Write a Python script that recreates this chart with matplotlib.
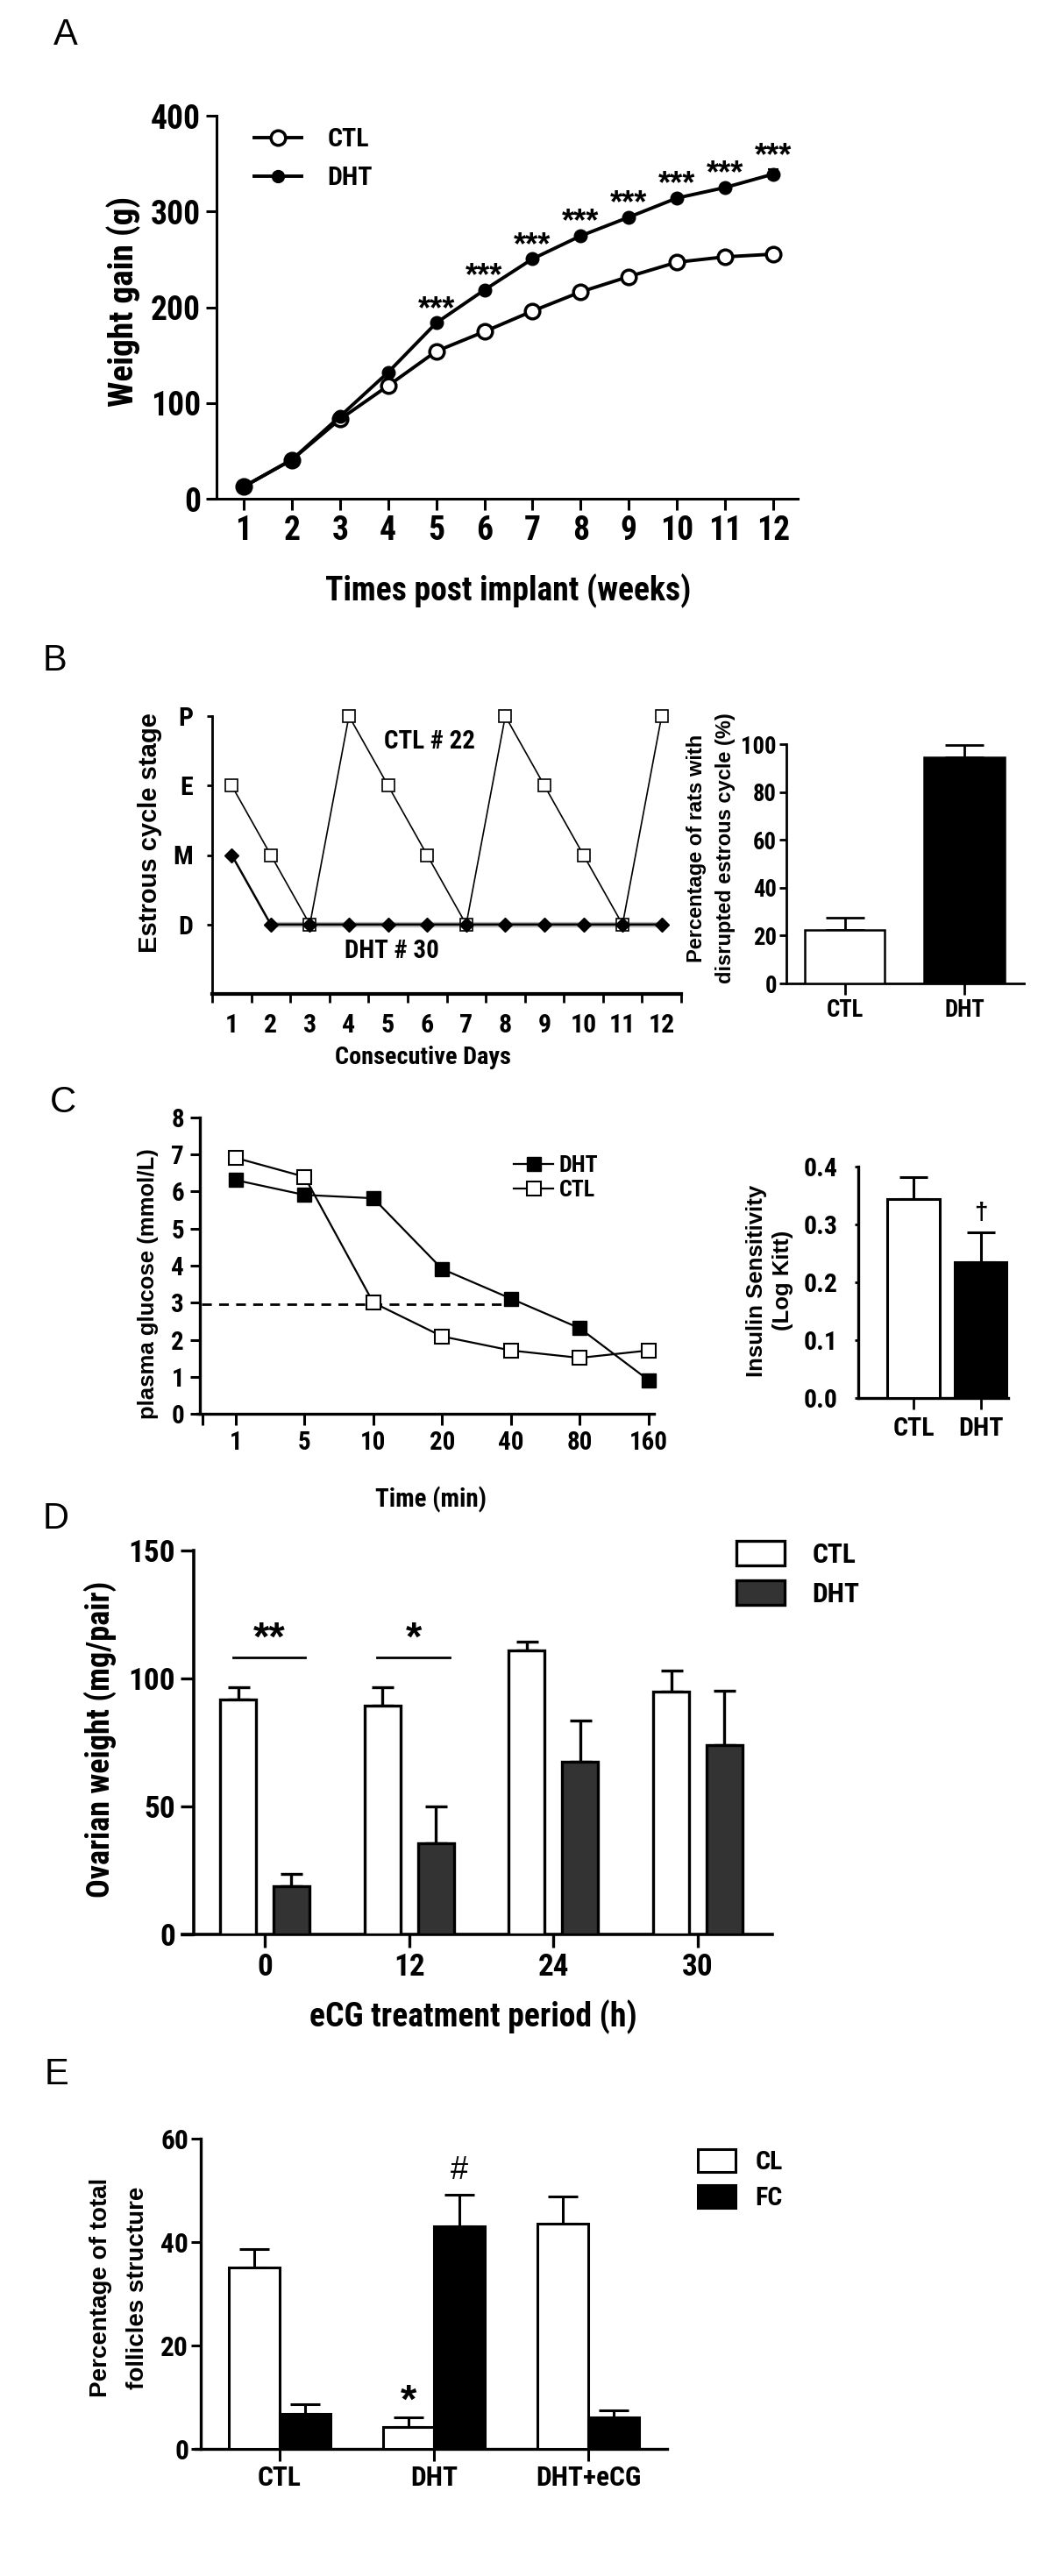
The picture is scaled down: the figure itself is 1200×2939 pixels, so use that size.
import matplotlib
matplotlib.use("Agg")
import matplotlib.pyplot as plt
from matplotlib import font_manager as fm
from matplotlib.font_manager import FontProperties
from matplotlib.lines import Line2D
import numpy as np

# ---------------- data ----------------
# Panel A
weeks = [1, 2, 3, 4, 5, 6, 7, 8, 9, 10, 11, 12]
ctl_weight = [12.6, 40.7, 83, 118, 154, 174.5, 196, 216, 232, 247, 252.6, 255.4]
ctl_weight_err = [0, 0, 0, 0, 0, 0, 0, 0, 0, 0, 0, 3]
dht_weight = [12.6, 40.7, 86, 132, 183.6, 218, 250.5, 274.5, 294, 314, 325, 339]
dht_weight_err = [0, 0, 0, 0, 0, 0, 0, 0, 0, 0, 0, 5]
sig_weeks = [5, 6, 7, 8, 9, 10, 11, 12]

# Panel B (left)
days = [1, 2, 3, 4, 5, 6, 7, 8, 9, 10, 11, 12]
stage_names = ["D", "M", "E", "P"]
ctl22_stage = [2, 1, 0, 3, 2, 1, 0, 3, 2, 1, 0, 3]
dht30_stage = [1, 0, 0, 0, 0, 0, 0, 0, 0, 0, 0, 0]
# Panel B (right)
groups_b = ["CTL", "DHT"]
disrupted_pct = [22.3, 94.5]
disrupted_err = [5.2, 5.1]

# Panel C (left)
time_labels = ["1", "5", "10", "20", "40", "80", "160"]
glucose_dht = [6.31, 5.91, 5.82, 3.91, 3.11, 2.31, 0.91]
glucose_ctl = [6.91, 6.40, 3.00, 2.09, 1.71, 1.51, 1.71]
glucose_threshold = 2.95
# Panel C (right)
groups_c = ["CTL", "DHT"]
insulin_sens = [0.344, 0.235]
insulin_err = [0.038, 0.051]

# Panel D
periods = ["0", "12", "24", "30"]
ovary_ctl = [91.8, 89.5, 111.0, 94.7]
ovary_ctl_err = [4.8, 7.1, 3.5, 8.5]
ovary_dht = [18.7, 35.5, 67.6, 73.9]
ovary_dht_err = [5.0, 14.5, 16.1, 21.4]
ovary_sig = {0: "**", 1: "*"}
ovary_sig_level = 108.2

# Panel E
groups_e = ["CTL", "DHT", "DHT+eCG"]
cl_pct = [35.1, 4.2, 43.6]
cl_err = [3.5, 1.9, 5.2]
fc_pct = [6.8, 43.0, 6.1]
fc_err = [1.8, 6.2, 1.3]

# ---------------- fonts ----------------
_names = {f.name for f in fm.fontManager.ttflist}
_narrow = None
for cand in ["Liberation Sans Narrow", "Arial Narrow", "Roboto Condensed",
             "Open Sans Condensed", "Noto Sans Condensed"]:
    if cand in _names:
        _narrow = cand
        break
if _narrow:
    NARROW = [_narrow, "Liberation Sans", "DejaVu Sans"]
    NSCALE = 1.13
else:
    NARROW = ["Liberation Sans", "DejaVu Sans"]
    NSCALE = 1.0
SANS = ["Liberation Sans", "DejaVu Sans"]


def fp(size, narrow=True, bold=True):
    if narrow:
        return FontProperties(family=NARROW, weight="bold" if bold else "normal",
                              size=size * NSCALE)
    return FontProperties(family=SANS, weight="bold" if bold else "normal", size=size)


# ---------------- helpers ----------------
W, H = 1200, 2939
fig = plt.figure(figsize=(W / 100, H / 100), dpi=100)
fig.patch.set_facecolor("white")


def add_ax(l, t, r, b):
    return fig.add_axes([l / W, 1 - b / H, (r - l) / W, (b - t) / H])


def ftext(x, y, s, **kw):
    return fig.text(x / W, 1 - y / H, s, **kw)


def style(ax, lw=2.2, left_shift_px=0, width_px=None):
    for s in ["top", "right"]:
        ax.spines[s].set_visible(False)
    for s in ["left", "bottom"]:
        ax.spines[s].set_linewidth(lw)
    if left_shift_px and width_px:
        ax.spines["left"].set_position(("axes", left_shift_px / width_px))
    ax.patch.set_alpha(0)


def tick_font(ax, size, narrow=True):
    for lab in ax.get_xticklabels() + ax.get_yticklabels():
        lab.set_fontproperties(fp(size, narrow=narrow))


def panel_letter(x, y, s):
    ftext(x, y, s, fontproperties=fp(30, narrow=False, bold=False), ha="center", va="center")


# ---------------- Panel A ----------------
panel_letter(75, 40, "A")
axA = add_ax(240, 132, 910, 569)
style(axA, 2.2, left_shift_px=7, width_px=670)
axA.errorbar(weeks, ctl_weight, yerr=ctl_weight_err, color="black", lw=2.8,
             marker="o", ms=12, mfc="white", mec="black", mew=2.5,
             capsize=4.5, capthick=2.5, elinewidth=2.5, clip_on=False, zorder=3)
axA.errorbar(weeks, dht_weight, yerr=dht_weight_err, color="black", lw=2.8,
             marker="o", ms=10, mfc="black", mec="black", mew=1.5,
             capsize=4.5, capthick=2.5, elinewidth=2.5, clip_on=False, zorder=4)
axA.set_xlim(1 - (278 - 240) / 54.9, 12 + (910 - 882) / 54.9)
axA.set_ylim(0, 400)
axA.set_xticks(weeks)
axA.set_yticks([0, 100, 200, 300, 400])
axA.tick_params(axis="both", length=9, width=2.2, pad=4)
tick_font(axA, 24)
for w in sig_weeks:
    i = weeks.index(w)
    axA.text(w, dht_weight[i] + dht_weight_err[i] + 5, "***", ha="center", va="baseline",
             fontproperties=fp(26, narrow=False))
hA = [Line2D([], [], color="black", lw=2.8, marker="o", ms=12, mfc="white", mec="black", mew=2.5),
      Line2D([], [], color="black", lw=2.8, marker="o", ms=10, mfc="black", mec="black")]
axA.legend(hA, ["CTL", "DHT"], loc="upper left", bbox_to_anchor=(290 / W, 1 - 145 / H),
           bbox_transform=fig.transFigure, frameon=False, prop=fp(19),
           handlelength=1.8, handletextpad=1.0, labelspacing=0.55, borderpad=0, borderaxespad=0)
ftext(141, 344, "Weight gain (g)", rotation=90, ha="center", va="center", fontproperties=fp(25))
ftext(580, 674, "Times post implant (weeks)", ha="center", va="center", fontproperties=fp(24))

# ---------------- Panel B left ----------------
panel_letter(62, 754, "B")
axB = add_ax(242, 817, 777, 1134)
style(axB, 2.0)
axB.spines["bottom"].set_linewidth(3)
axB.plot(days[1:], dht30_stage[1:], color="#b5b5b5", lw=4.5, solid_capstyle="butt", zorder=2)
axB.plot(days, ctl22_stage, color="black", lw=1.2, marker="s", ms=10, mfc="white",
         mec="black", mew=1.2, clip_on=False, zorder=3)
axB.plot(days, dht30_stage, color="black", lw=1.8, marker="D", ms=8, mfc="black",
         mec="black", clip_on=False, zorder=4)
axB.set_xlim(0.5, 12.45)
axB.set_ylim(-1, 3)
axB.set_xticks(days)
axB.set_xticks(np.arange(0.5, 12.6, 1.0), minor=True)
axB.tick_params(axis="x", which="major", length=0, pad=16)
axB.tick_params(axis="x", which="minor", length=7, width=2)
axB.set_yticks([0, 1, 2, 3])
axB.set_yticklabels(stage_names)
axB.tick_params(axis="y", length=4, width=2, pad=12)
tick_font(axB, 19)
axB.text(6.05, 2.63, "CTL # 22", ha="center", va="center", fontproperties=fp(18.5))
axB.text(5.1, -0.38, "DHT # 30", ha="center", va="center", fontproperties=fp(18.5))
ftext(171, 950, "Estrous cycle stage", rotation=90, ha="center", va="center",
      fontproperties=fp(21, narrow=False))
ftext(482, 1206, "Consecutive Days", ha="center", va="center", fontproperties=fp(18))

# ---------------- Panel B right ----------------
axB2 = add_ax(897, 849, 1168, 1122)
style(axB2, 2.0)
axB2.bar([0, 1], disrupted_pct, width=0.67, color=["white", "black"], edgecolor="black",
         linewidth=1.8, zorder=3)
axB2.errorbar([0, 1], disrupted_pct, yerr=[[0, 0], disrupted_err], fmt="none", ecolor="black",
              elinewidth=2, capsize=16, capthick=2, zorder=2)
axB2.set_xlim(-0.49, 1.5)
axB2.set_ylim(0, 100)
axB2.set_xticks([0, 1])
axB2.set_xticklabels(groups_b)
axB2.set_yticks([0, 20, 40, 60, 80, 100])
axB2.tick_params(axis="x", length=9, width=2, pad=3)
axB2.tick_params(axis="y", length=6, width=2, pad=2)
tick_font(axB2, 17)
ftext(811, 968, "Percentage of rats with\ndisrupted estrous cycle (%)", rotation=90,
      ha="center", va="center", multialignment="center", linespacing=1.55,
      fontproperties=fp(17, narrow=False))

# ---------------- Panel C left ----------------
panel_letter(72, 1258, "C")
axC = add_ax(225, 1275, 746, 1613)
style(axC, 2.4, left_shift_px=3, width_px=521)
xi = np.arange(len(time_labels))
axC.plot([-0.5, 4], [glucose_threshold, glucose_threshold], color="black", lw=2,
         dashes=(4, 3), zorder=2)
axC.plot(xi, glucose_dht, color="black", lw=1.6, marker="s", ms=11, mfc="black", mec="black",
         label="DHT", clip_on=False, zorder=3)
axC.plot(xi, glucose_ctl, color="black", lw=1.6, marker="s", ms=11, mfc="white", mec="black",
         mew=1.5, label="CTL", clip_on=False, zorder=4)
axC.set_xlim(-0.56, 6.08)
axC.set_ylim(0, 8)
axC.set_xticks(xi)
axC.set_xticklabels(time_labels)
axC.set_xticks([-0.48], minor=True)
axC.tick_params(axis="x", which="both", length=9, width=2.2, pad=5)
axC.set_yticks(range(0, 9))
axC.tick_params(axis="y", length=8, width=2.2, pad=5)
tick_font(axC, 18.5)
axC.legend(loc="upper left", bbox_to_anchor=(586 / W, 1 - 1318 / H),
           bbox_transform=fig.transFigure, frameon=False, prop=fp(16.5),
           handlelength=1.75, handletextpad=0.25, labelspacing=0.15, borderpad=0, borderaxespad=0)
ftext(169, 1465, "plasma glucose (mmol/L)", rotation=90, ha="center", va="center",
      fontproperties=fp(18.5, narrow=False))
ftext(492, 1711, "Time (min)", ha="center", va="center", fontproperties=fp(18.5))

# ---------------- Panel C right ----------------
axI = add_ax(979, 1331, 1150, 1595)
style(axI, 2.4)
axI.bar([0, 1], insulin_sens, width=0.78, color=["white", "black"], edgecolor="black",
        linewidth=2.2, zorder=3)
axI.errorbar([0, 1], insulin_sens, yerr=[[0, 0], insulin_err], fmt="none", ecolor="black",
             elinewidth=2.2, capsize=11.5, capthick=2.2, zorder=2)
axI.text(1, insulin_sens[1] + insulin_err[1] + 0.014, "\u2020", ha="center", va="bottom",
         fontproperties=fp(20, narrow=False))
axI.set_xlim(-0.82, 1.40)
axI.set_ylim(0, 0.4)
axI.set_xticks([0, 1])
axI.set_xticklabels(groups_c)
axI.set_yticks([0, 0.1, 0.2, 0.3, 0.4])
axI.set_yticklabels(["0.0", "0.1", "0.2", "0.3", "0.4"])
axI.tick_params(axis="x", length=9, width=2, pad=6)
axI.tick_params(axis="y", length=3, width=2, pad=14)
tick_font(axI, 19)
ftext(878, 1461, "Insulin Sensitivity\n(Log Kitt)", rotation=90, ha="center", va="center",
      multialignment="center", linespacing=1.35, fontproperties=fp(18.5, narrow=False))

# ---------------- Panel D ----------------
panel_letter(64, 1733, "D")
axD = add_ax(208, 1769, 881, 2207)
style(axD, 2.6, left_shift_px=13, width_px=673)
gx = np.arange(len(periods))
off, bw = 0.185, 0.25
axD.bar(gx - off, ovary_ctl, width=bw, color="white", edgecolor="black",
        linewidth=2.4, zorder=3, label="CTL")
axD.bar(gx + off, ovary_dht, width=bw, color="#333333", edgecolor="black",
        linewidth=2.4, zorder=3, label="DHT")
axD.errorbar(gx - off, ovary_ctl, yerr=[np.zeros(4), ovary_ctl_err], fmt="none", ecolor="black",
             elinewidth=2.4, capsize=9, capthick=2.4, zorder=2)
axD.errorbar(gx + off, ovary_dht, yerr=[np.zeros(4), ovary_dht_err], fmt="none", ecolor="black",
             elinewidth=2.4, capsize=9, capthick=2.4, zorder=2)
for g, s in ovary_sig.items():
    axD.plot([g - 0.22, g + 0.28], [ovary_sig_level, ovary_sig_level], color="black", lw=2)
    axD.text(g + 0.03, ovary_sig_level + 3, s, ha="center", va="baseline",
             fontproperties=fp(34, narrow=False))
gstep = 164.7
axD.set_xlim(-(302 - 208) / gstep, 3 + (881 - 796) / gstep)
axD.set_ylim(0, 150)
axD.set_xticks(gx)
axD.set_xticklabels(periods)
axD.set_yticks([0, 50, 100, 150])
axD.tick_params(axis="x", length=11, width=2.4, pad=4)
axD.tick_params(axis="y", length=11, width=2.4, pad=4)
tick_font(axD, 22.5)
axD.legend(loc="upper left", bbox_to_anchor=(840 / W, 1 - 1758 / H),
           bbox_transform=fig.transFigure, frameon=False, prop=fp(20),
           handlelength=1.75, handleheight=1.0, handletextpad=1.0, labelspacing=0.45,
           borderpad=0, borderaxespad=0)
ftext(114, 1984, "Ovarian weight (mg/pair)", rotation=90, ha="center", va="center",
      fontproperties=fp(23))
ftext(540, 2301, "eCG treatment period (h)", ha="center", va="center", fontproperties=fp(24))

# ---------------- Panel E ----------------
panel_letter(65, 2367, "E")
axE = add_ax(223, 2440, 761, 2794)
style(axE, 2.4, left_shift_px=6, width_px=538)
ex = np.arange(len(groups_e))
off, bw = 0.165, 0.33
axE.bar(ex - off, cl_pct, width=bw, color="white", edgecolor="black", linewidth=2.2,
        zorder=3, label="CL")
axE.bar(ex + off, fc_pct, width=bw, color="black", edgecolor="black", linewidth=2.2,
        zorder=3, label="FC")
axE.errorbar(ex - off, cl_pct, yerr=[np.zeros(3), cl_err], fmt="none", ecolor="black",
             elinewidth=2.2, capsize=12.5, capthick=2.2, zorder=2)
axE.errorbar(ex + off, fc_pct, yerr=[np.zeros(3), fc_err], fmt="none", ecolor="black",
             elinewidth=2.2, capsize=12.5, capthick=2.2, zorder=2)
axE.text(1 - off, cl_pct[1] + cl_err[1] + 0.9, "*", ha="center", va="baseline",
         fontproperties=fp(34, narrow=False))
axE.text(1 + off, fc_pct[1] + fc_err[1] + 3.0, "#", ha="center", va="baseline",
         fontproperties=fp(26, narrow=False, bold=False))
estep = 176.0
axE.set_xlim(-(319 - 223) / estep, 2 + (761 - 671) / estep)
axE.set_ylim(0, 60)
axE.set_xticks(ex)
axE.set_xticklabels(groups_e)
axE.set_yticks([0, 20, 40, 60])
axE.tick_params(axis="x", length=10, width=2.2, pad=3)
axE.tick_params(axis="y", length=8, width=2.2, pad=2)
tick_font(axE, 20)
axE.legend(loc="upper left", bbox_to_anchor=(796 / W, 1 - 2452 / H),
           bbox_transform=fig.transFigure, frameon=False, prop=fp(19),
           handlelength=1.45, handleheight=0.95, handletextpad=0.75, labelspacing=0.4,
           borderpad=0, borderaxespad=0)
ftext(136, 2610, "Percentage of total\nfollicles structure", rotation=90, ha="center",
      va="center", multialignment="center", linespacing=1.8, fontproperties=fp(20, narrow=False))

fig.savefig("out.png", dpi=100, facecolor="white")
